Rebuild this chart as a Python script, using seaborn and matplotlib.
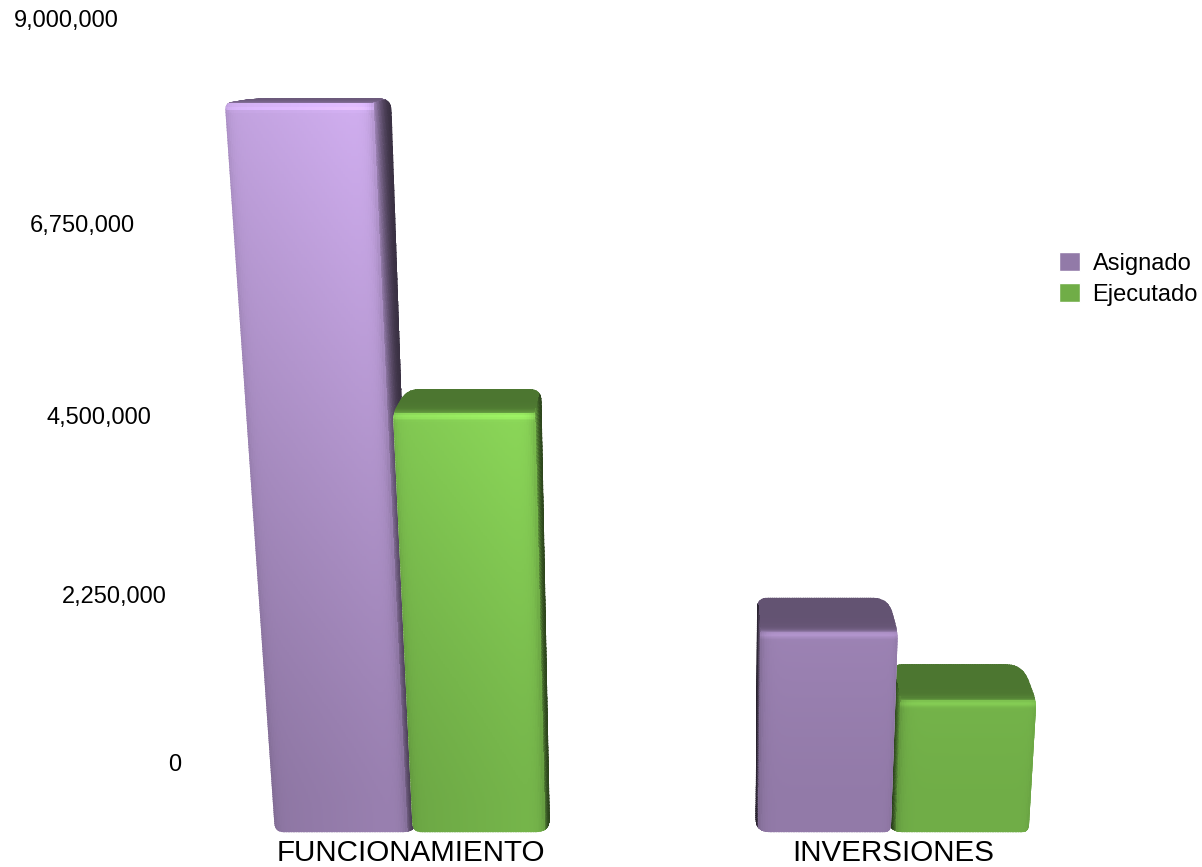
import numpy as np
import pandas as pd
import matplotlib.pyplot as plt
import seaborn as sns
from matplotlib.collections import QuadMesh
from matplotlib.path import Path
from matplotlib.transforms import Affine2D, Transform

# values
categories = ['FUNCIONAMIENTO', 'INVERSIONES']
asignado = [8150000, 2260000]
ejecutado = [4880000, 1375000]
series_names = ['Asignado', 'Ejecutado']
series_colors = ['#927AA8', '#70AD47']
tick_values = [0, 2250000, 4500000, 6750000, 9000000]
tick_labels = ['0', '2,250,000', '4,500,000', '6,750,000', '9,000,000']

sns.set_style('white')
plt.rcParams['font.family'] = ['Liberation Sans', 'DejaVu Sans']

W, H = 1202, 867
FLOOR_FRONT = -400000
FLOOR_BACK = -1000000
TICK_U = -0.5028
LABEL_V = -690000
VMAX = 8150000


class Perspective(Transform):
    # (category position, value) -> picture pixels
    input_dims = 2
    output_dims = 2

    def __init__(self, cx, uc, p, k, c, b, h):
        super().__init__()
        self.params = (cx, uc, p, k, c, b, h)

    def transform_non_affine(self, values):
        cx, uc, p, k, c, b, h = self.params
        values = np.asarray(values, dtype=float)
        u = values[:, 0]
        v = values[:, 1] / 1e6
        x = cx + (u - uc) * p / (1 + k * v)
        y = (c + b * v) / (1 + h * v)
        return np.column_stack([x, y])


to_disp = Affine2D().scale(1, -1).translate(0, H)
front = Perspective(688, 0.575, 486, -0.0127, 803.4, -87.9, -0.01915)
back = Perspective(704, 0.61, 470, -0.0092, 763, -83.2, -0.0169)
wall = Perspective(704, 0.61, 470, -0.0119, 765, -82.96, -0.014)


def rounded_path(points, radii):
    verts, codes = [], []
    n = len(points)
    for i in range(n):
        p = np.array(points[i], dtype=float)
        prev = np.array(points[i - 1], dtype=float)
        nxt = np.array(points[(i + 1) % n], dtype=float)
        d1, d2 = prev - p, nxt - p
        l1, l2 = np.hypot(*d1), np.hypot(*d2)
        r = min(radii[i], 0.45 * l1, 0.45 * l2)
        verts += [p + d1 / l1 * r, p, p + d2 / l2 * r]
        codes += [Path.MOVETO if i == 0 else Path.LINETO, Path.CURVE3, Path.CURVE3]
    verts.append(verts[0])
    codes.append(Path.CLOSEPOLY)
    return Path(verts, codes)


def colors(base, factor):
    rgb = np.array(plt.matplotlib.colors.to_rgb(base))
    return np.clip(rgb[None, None, :] * factor[..., None], 0, 1)


def face(ax, X, Y, base, factor, clip, z):
    mesh = QuadMesh(np.dstack([X, Y]), array=colors(base, factor), transform=to_disp,
                    antialiased=False, linewidth=0, zorder=z)
    ax.add_collection(mesh, autolim=False)
    mesh.set_clip_path(clip, to_disp)


def grid(trans, u, v):
    uu, vv = np.meshgrid(u, v)
    pts = trans.transform_non_affine(np.column_stack([uu.ravel(), vv.ravel()]))
    return pts[:, 0].reshape(uu.shape), pts[:, 1].reshape(uu.shape)


def height_light(v):
    return 1 + 0.36 * (np.clip(v, 0, None) / VMAX) ** 1.3


def draw_bar(ax, patch, color, z):
    u0, u1 = patch.get_x(), patch.get_x() + patch.get_width()
    top = patch.get_height()
    right_side = (u0 + u1) / 2 < 0.6

    pt = lambda tr, u, v: tuple(tr.transform_non_affine(np.array([[u, v]]))[0])
    fl, fr = pt(front, u0, FLOOR_FRONT), pt(front, u1, FLOOR_FRONT)
    tfl, tfr = pt(front, u0, top), pt(front, u1, top)
    tbl, tbr = pt(back, u0, top), pt(back, u1, top)
    bbl, bbr = pt(back, u0, FLOOR_BACK), pt(back, u1, FLOOR_BACK)
    if right_side:
        hull = [fl, tfl, tbl, tbr, bbr]
        radii = [9, 7, 18, 12, 14]
    else:
        hull = [tfr, tbr, tbl, bbl, fr]
        radii = [8, 18, 10, 14, 7]
    clip = rounded_path(hull, radii)

    # seaborn's own bar stays as the base colour under the shading
    patch.set_y(FLOOR_FRONT)
    patch.set_height(top - FLOOR_FRONT)
    patch.set_transform(front + to_disp)
    patch.set_clip_path(clip, to_disp)
    patch.set_zorder(z)

    # top lid, lit where it rolls over into the front face
    d = np.linspace(0, 1, 30)[:, None]
    u = np.linspace(u0, u1, 61)
    xf, yf = grid(front, u, [top])
    xb, yb = grid(back, u, [top])
    X = xf + (xb - xf) * d
    Y = yf + (yb - yf) * d
    rows = np.arange(29)[:, None]
    lid = 0.68 + 0.3 * np.exp(-rows * (yf[0, 0] - yb[0, 0]) / 29 / 2.5)
    lid = np.tile(lid, (1, 60))
    face(ax, X, Y, color, lid, clip, z + 0.1)

    # side wall, smooth from the front edge to the dark outer edge
    side_u = u1 if right_side else u0
    v_f = np.linspace(FLOOR_FRONT, top, 121)
    v_b = np.linspace(FLOOR_BACK, top, 121)
    xf, yf = grid(front, [side_u], v_f)
    xb, yb = grid(back, [side_u], v_b)
    d = np.linspace(0, 1, 25)[None, :]
    X = xf + (xb - xf) * d
    Y = yf + (yb - yf) * d
    s = np.linspace(0, 1, 24)[None, :]
    outer = 0.4 if right_side else 0.26
    v_mid = (v_f[:-1] + v_f[1:])[:, None] / 2
    side = outer + (0.85 * height_light(v_mid) - outer) * (1 - s) ** 1.7
    face(ax, X, Y, color, side, clip, z + 0.2)

    # front face
    u = np.linspace(u0, u1, 81)
    v = np.linspace(FLOOR_FRONT, top, 281)
    X, Y = grid(front, u, v)
    uc = (u[:-1] + u[1:]) / 2
    vc = (v[:-1] + v[1:]) / 2
    a = (uc - u0) / (u1 - u0)
    aa, vv = np.meshgrid(a, vc)
    yc = (Y[:-1, :-1] + Y[1:, 1:]) / 2
    ytop = yc[-1, :].mean()
    f = height_light(vv)
    # rounded bevels along the edges
    if right_side:
        f = f * (0.97 + 0.09 * aa)
        f = f * (1 - 0.12 * np.exp(-aa / 0.03)) * (1 - 0.15 * np.exp(-(1 - aa) / 0.035))
    else:
        f = f * (1 - 0.15 * np.exp(-aa / 0.035)) * (1 - 0.06 * np.exp(-(1 - aa) / 0.02))
    f = f * (1 + 0.14 * np.exp(-((yc - ytop - 2) / 3.0) ** 2))
    face(ax, X, Y, color, f, clip, z + 0.3)


df = pd.DataFrame({
    'rubro': categories * 2,
    'monto': asignado + ejecutado,
    'serie': [series_names[0]] * 2 + [series_names[1]] * 2,
})

fig, ax = plt.subplots(figsize=(W / 100, H / 100), dpi=100)
fig.subplots_adjust(left=0, right=1, bottom=0, top=1)
sns.barplot(data=df, x='rubro', y='monto', hue='serie', order=categories,
            hue_order=series_names, palette=series_colors, saturation=1,
            width=0.57, gap=0.04, ax=ax)

handles, labels = ax.get_legend_handles_labels()
bars_a, bars_e = ax.containers[0], ax.containers[1]
draw_bar(ax, bars_a[0], series_colors[0], 2)
draw_bar(ax, bars_e[0], series_colors[1], 3)
draw_bar(ax, bars_e[1], series_colors[1], 4)
draw_bar(ax, bars_a[1], series_colors[0], 5)

ax.set_axis_off()

for val, lab in zip(tick_values, tick_labels):
    ax.text(TICK_U, val, lab, transform=wall + to_disp, ha='right', va='center',
            fontsize=17, color='black', clip_on=False)
for i, cat in enumerate(categories):
    ax.text(i, LABEL_V, cat, transform=front + to_disp, ha='center', va='center',
            fontsize=21.3, color='black', clip_on=False)

ax.legend(handles, labels, loc='upper left', bbox_to_anchor=(1052 / W, 1 - 245 / H),
          bbox_transform=fig.transFigure, frameon=False, fontsize=17, borderpad=0.3,
          borderaxespad=0, handlelength=0.87, handleheight=0.87, handletextpad=0.55,
          labelspacing=0.36, labelcolor='black')

plt.savefig('out.png', dpi=100)
